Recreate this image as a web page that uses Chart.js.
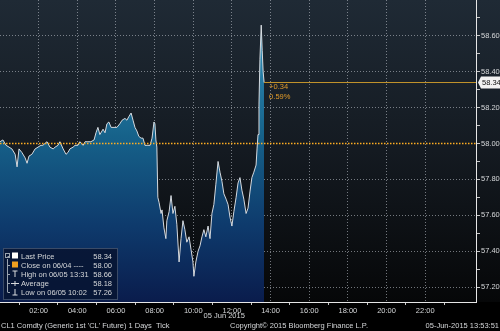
<!DOCTYPE html>
<html>
<head>
<meta charset="utf-8">
<script src="https://cdn.jsdelivr.net/npm/chart.js@4/dist/chart.umd.min.js"></script>
<style>
  html, body { margin: 0; padding: 0; background: #000; }
  #wrap { width: 500px; height: 331px; position: relative; }
</style>
</head>
<body>
<div id="wrap"><canvas id="mainChart"></canvas></div>
<script>
/* ── Data ────────────────────────────────────────────────────────────── */
const times = [
  '00:00','00:09','00:19','00:28','00:37','00:47','00:53','00:59','01:08','01:18',
  '01:24','01:30','01:39','01:49','01:58','02:07','02:13','02:26','02:35','02:45',
  '02:51','03:00','03:06','03:16','03:25','03:31','03:37','03:47','03:53','04:02',
  '04:08','04:18','04:24','04:33','04:42','04:52','04:58','05:04','05:10','05:20',
  '05:26','05:32','05:38','05:45','05:54','06:03','06:12','06:19','06:28','06:34',
  '06:40','06:47','06:53','06:59','07:05','07:11','07:18','07:24','07:30','07:39',
  '07:46','07:52','07:58','08:01','08:04','08:07','08:10','08:14','08:20','08:23',
  '08:29','08:35','08:38','08:45','08:51','08:57','09:03','09:09','09:16','09:22',
  '09:28','09:34','09:40','09:47','09:53','09:59','10:02','10:08','10:15','10:21',
  '10:27','10:33','10:39','10:46','10:52','10:58','11:04','11:10','11:17','11:23',
  '11:29','11:35','11:42','11:48','11:54','12:00','12:06','12:13','12:19','12:25',
  '12:31','12:37','12:44','12:50','12:56','13:02','13:08','13:15','13:18','13:21',
  '13:24','13:27','13:31','13:34','13:37','13:40'
];
const prices = [
  58.01,58.02,57.99,57.98,57.97,57.94,57.87,57.97,57.95,57.92,
  57.89,57.93,57.94,57.97,57.98,57.99,57.99,58.01,57.98,57.97,
  57.98,57.99,58.01,57.97,57.94,57.95,57.97,57.98,57.99,57.99,
  58.01,57.99,58.01,58.01,58.01,58.02,58.06,58.09,58.05,58.08,
  58.06,58.11,58.12,58.09,58.09,58.09,58.11,58.13,58.14,58.13,
  58.15,58.17,58.13,58.09,58.07,58.04,58.03,58.03,57.99,57.99,
  57.99,58.03,58.12,58.11,58.02,57.98,57.70,57.67,57.61,57.63,
  57.53,57.47,57.57,57.62,57.71,57.61,57.65,57.55,57.34,57.47,
  57.57,57.52,57.45,57.48,57.41,57.34,57.26,57.34,57.40,57.43,
  57.48,57.52,57.48,57.54,57.47,57.61,57.66,57.77,57.90,57.84,
  57.79,57.72,57.69,57.66,57.59,57.54,57.62,57.70,57.78,57.81,
  57.74,57.69,57.61,57.64,57.73,57.81,57.84,57.88,57.97,58.05,
  58.22,58.47,58.66,58.52,58.40,58.34
];
const prevClose = 58.00;
const lastPrice = 58.34;
const change = '+0.34';
const changePct = '0.59%';
const legendRows = [
  { label: 'Last Price',               value: '58.34', icon: 'white' },
  { label: 'Close on 06/04 ----',      value: '58.00', icon: 'orange' },
  { label: 'High on 06/05 13:31',      value: '58.66', icon: 'high' },
  { label: 'Average',                  value: '58.18', icon: 'avg' },
  { label: 'Low on 06/05 10:02',       value: '57.26', icon: 'low' }
];
const xMin = 0, xMax = 24.63;       // hours of 05 Jun 2015
const yMin = 57.1167, yMax = 58.80;

/* ── Helpers ─────────────────────────────────────────────────────────── */
const toHours = s => { const [h, m] = s.split(':').map(Number); return h + m / 60; };
const pricePts = times.map((t, i) => ({ x: toHours(t), y: prices[i] }));
const lastX = toHours(times[times.length - 1]);
const FONT = '"Liberation Sans", Arial, sans-serif';
const TXT = '#d4d6d8';
const GRID = 'rgba(185,190,198,0.6)';

const tenth = v => Math.round(v * 10);
const onTenth = v => Math.abs(v * 10 - tenth(v)) < 0.01;
// major y grid: every 0.20, except the close line which is drawn in orange
const yMajor = v => onTenth(v) && tenth(v) % 2 === 0 && tenth(v) !== tenth(prevClose);

/* ── Plugin: background, legend box, texts ───────────────────────────── */
const bbgPlugin = {
  id: 'bbg',
  beforeDraw(chart) {
    const c = chart.ctx;
    const g = c.createLinearGradient(0, 0, 0, 302);
    g.addColorStop(0, '#1f2a35');
    g.addColorStop(0.5, '#141a21');
    g.addColorStop(1, '#060708');
    c.save();
    c.fillStyle = '#000';
    c.fillRect(0, 0, chart.width, chart.height);
    c.fillStyle = g;
    c.fillRect(0, 0, chart.width, 302);
    c.restore();
  },
  afterDraw(chart) {
    const c = chart.ctx;
    const xs = chart.scales.x, ys = chart.scales.y;
    c.save();

    // change text next to last price
    const lx = xs.getPixelForValue(lastX), ly = ys.getPixelForValue(lastPrice);
    c.font = '7.5px ' + FONT;
    c.fillStyle = '#e09a2a';
    c.textBaseline = 'middle';
    c.textAlign = 'left';
    c.fillText(change, lx + 5, ly + 4);
    c.fillText(changePct, lx + 5, ly + 14);

    // last price label box on axis
    const bx = xs.right + 2;
    c.fillStyle = '#f2f2f2';
    c.beginPath();
    c.moveTo(bx, ly);
    c.lineTo(bx + 3, ly - 6);
    c.lineTo(500, ly - 6);
    c.lineTo(500, ly + 6);
    c.lineTo(bx + 3, ly + 6);
    c.closePath();
    c.fill();
    c.fillStyle = '#111';
    c.fillText(lastPrice.toFixed(2), bx + 4, ly + 0.5);

    // legend box
    c.fillStyle = 'rgba(8,22,52,0.92)';
    c.fillRect(3, 248, 115, 52);
    c.strokeStyle = 'rgba(110,125,150,0.5)';
    c.lineWidth = 1;
    c.strokeRect(3.5, 248.5, 114, 51);
    // tree line
    c.strokeStyle = '#9aa4b0';
    c.beginPath();
    c.moveTo(7.5, 259); c.lineTo(7.5, 292);
    c.stroke();
    c.strokeRect(5.5, 253.5, 4, 4);
    c.font = '7.5px ' + FONT;
    legendRows.forEach((r, i) => {
      const y = 256 + i * 9;
      c.strokeStyle = '#9aa4b0';
      c.beginPath(); c.moveTo(7.5, y + 0.5); c.lineTo(10, y + 0.5); c.stroke();
      if (r.icon === 'white' || r.icon === 'orange') {
        c.fillStyle = r.icon === 'white' ? '#ffffff' : '#f0a020';
        c.fillRect(12, y - 3.5, 6, 6);
      } else {
        c.strokeStyle = '#d8dadc';
        c.beginPath();
        if (r.icon === 'high') { c.moveTo(12.5, y - 3); c.lineTo(17.5, y - 3); c.moveTo(15, y - 3); c.lineTo(15, y + 3); }
        if (r.icon === 'avg')  { c.moveTo(11, y + 0.5); c.lineTo(19, y + 0.5); c.moveTo(15, y - 2); c.lineTo(15, y + 3); }
        if (r.icon === 'low')  { c.moveTo(15, y - 3); c.lineTo(15, y + 3); c.moveTo(12.5, y + 3); c.lineTo(17.5, y + 3); }
        c.stroke();
      }
      c.fillStyle = TXT;
      c.textAlign = 'left';
      c.fillText(r.label, 21, y + 0.5);
      c.textAlign = 'right';
      c.fillText(r.value, 112, y + 0.5);
    });

    // footer texts
    c.font = '7.5px ' + FONT;
    c.fillStyle = TXT;
    c.textAlign = 'center';
    c.fillText('05 Jun 2015', xs.getPixelForValue(11.6), 316);
    c.textAlign = 'left';
    c.fillText("CL1 Comdty (Generic 1st 'CL' Future) 1 Days  Tick", 1, 326);
    c.fillText('Copyright\u00A9 2015 Bloomberg Finance L.P.', 230, 326);
    c.textAlign = 'right';
    c.fillText('05-Jun-2015 13:53:51', 499, 326);
    c.restore();
  }
};

/* ── Chart ───────────────────────────────────────────────────────────── */
const ctx = document.getElementById('mainChart').getContext('2d');
const chart = new Chart(ctx, {
  type: 'line',
  data: {
    datasets: [
      {
        label: 'Close',
        data: [{ x: xMin, y: prevClose }, { x: xMax, y: prevClose }],
        borderColor: '#ffae22',
        borderWidth: 1.5,
        borderDash: [1.5, 1.5],
        pointRadius: 0,
        fill: false,
        order: 0
      },
      {
        label: 'Last',
        data: [{ x: lastX, y: lastPrice }, { x: xMax, y: lastPrice }],
        borderColor: '#c4952c',
        borderWidth: 1,
        pointRadius: 0,
        fill: false,
        order: 0
      },
      {
        label: 'Last Price',
        data: pricePts,
        borderColor: 'rgba(222,226,230,0.95)',
        borderWidth: 1,
        pointRadius: 0,
        tension: 0,
        fill: 'start',
        backgroundColor: (c) => {
          const a = c.chart.chartArea;
          if (!a) return 'rgba(20,90,130,0.9)';
          const g = c.chart.ctx.createLinearGradient(0, a.top, 0, a.bottom);
          g.addColorStop(0, '#3a9cc6');
          g.addColorStop(0.45, '#16628a');
          g.addColorStop(0.75, '#0e3a6c');
          g.addColorStop(1, '#0a1c4c');
          return g;
        },
        order: 5
      }
    ]
  },
  options: {
    responsive: true,
    maintainAspectRatio: false,
    animation: false,
    events: [],
    layout: { padding: 0 },
    plugins: { legend: { display: false }, tooltip: { enabled: false } },
    scales: {
      x: {
        type: 'linear',
        min: xMin, max: xMax,
        z: 1,
        afterFit: s => { s.height = 29; s.paddingLeft = 0; s.paddingRight = 0; },
        ticks: {
          stepSize: 1,
          autoSkip: false,
          maxRotation: 0,
          padding: 1,
          color: TXT,
          font: { family: FONT, size: 7.5 },
          callback: v => {
            if (!Number.isInteger(v) || v === 0 || v >= 24) return null;
            return v % 2 === 0 ? String(v).padStart(2, '0') + ':00' : '';
          }
        },
        grid: {
          color: c => (c.tick && c.tick.value % 2 === 0) ? GRID : 'transparent',
          tickColor: c => (c.tick && c.tick.value % 2 === 1) ? '#c8c8c8' : 'transparent',
          tickLength: 3,
          lineWidth: 1
        },
        border: { color: '#e6e6e6', width: 1, dash: [1, 2] }
      },
      y: {
        type: 'linear',
        position: 'right',
        min: yMin, max: yMax,
        z: 1,
        afterFit: s => { s.width = 24; s.paddingTop = 0; s.paddingBottom = 0; },
        ticks: {
          stepSize: 0.1,
          padding: 1,
          color: TXT,
          font: { family: FONT, size: 7.5 },
          callback: v => {
            if (!onTenth(v)) return null;
            const t = tenth(v);
            if (t < 572 || t > 587) return null;
            return t % 2 === 0 ? (t / 10).toFixed(2) : '';
          }
        },
        grid: {
          color: c => (c.tick && yMajor(c.tick.value)) ? GRID : 'transparent',
          tickColor: '#c8c8c8',
          tickLength: 4,
          lineWidth: 1
        },
        border: { color: '#e6e6e6', width: 1, dash: [1, 2] }
      }
    }
  },
  plugins: [bbgPlugin]
});
</script>
</body>
</html>
